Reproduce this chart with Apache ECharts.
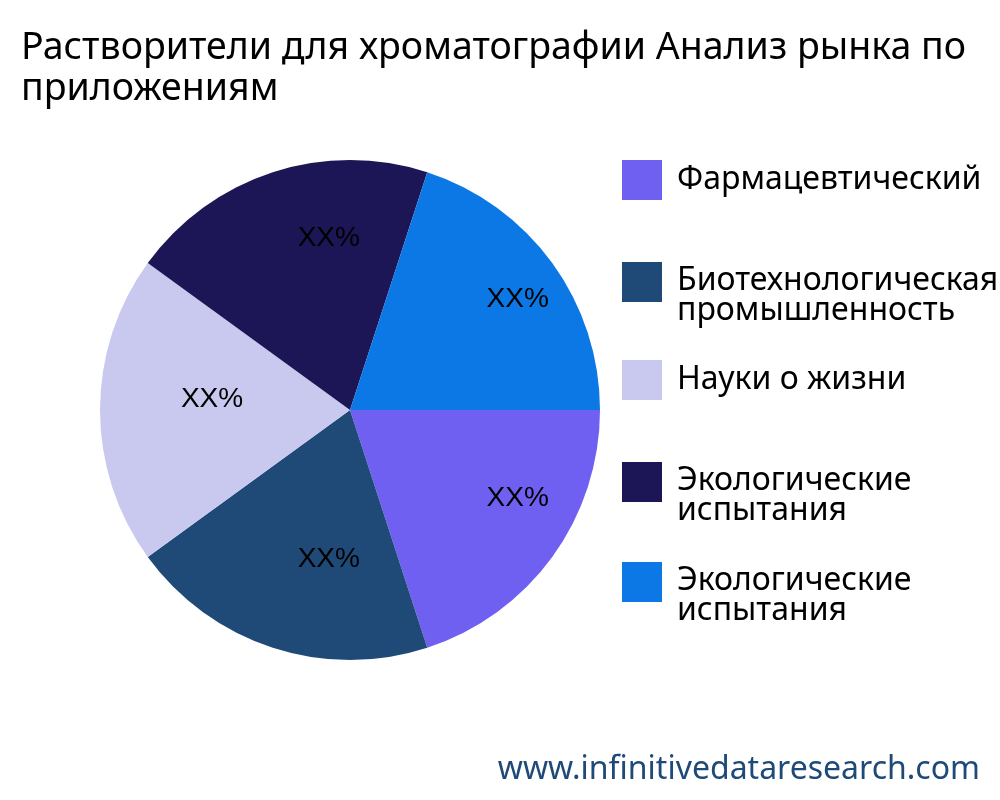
<!DOCTYPE html><html><head><meta charset="utf-8"><script src="https://cdn.jsdelivr.net/npm/echarts@6/dist/echarts.min.js"></script></head><body style="margin:0"><div id="c" style="width:1000px;height:800px"></div><script>
const categories=["Фармацевтический","Биотехнологическая\nпромышленность","Науки о жизни","Экологические\nиспытания","Экологические\nиспытания "];
const values=[20,20,20,20,20];
const labels=["XX%","XX%","XX%","XX%","XX%"];
const colors=["#7060f2","#1f4a78","#c9c9f0","#1c1656","#0b78e6"];
const ch=echarts.init(document.getElementById('c'));
const data=categories.map((n,i)=>({name:n,value:values[i]}));
const legends=categories.map((n,i)=>{
  const two=n.indexOf("\n")>=0;
  return {orient:"vertical",left:617,top:155+100*i-(two?22:0),itemWidth:40,itemHeight:40,icon:"rect",data:[n],
    formatter:two?(s=>'{s| }\n'+s.split("\n").map(l=>'{t|'+l+'}').join("\n")):undefined,
    textStyle:{fontFamily:"Noto Sans",fontSize:32,color:"#000",lineHeight:30,padding:[0,0,0,10],
      rich:{s:{fontSize:1,lineHeight:28},t:{fontFamily:"Noto Sans",fontSize:32,color:"#000",lineHeight:30}}}};
});
ch.setOption({
title:{text:"Растворители для хроматографии Анализ рынка по\nприложениям",left:16,top:23,textStyle:{fontFamily:"Noto Sans",fontWeight:"normal",fontSize:37.5,color:"#000",lineHeight:41}},
color:colors,
legend:legends,
graphic:[{type:"text",right:20,bottom:14,style:{text:"www.infinitivedataresearch.com",fontFamily:"Noto Sans",fontSize:32,fill:"#1f4a78"}}],
series:[
{type:"pie",center:[350,410],radius:[0,250],startAngle:0,clockwise:true,label:{show:false},labelLine:{show:false},data:data,emphasis:{disabled:true}},
{type:"pie",center:[381,399],radius:[82,250],startAngle:0,clockwise:true,silent:true,legendHoverLink:false,
 label:{show:true,position:"inside",formatter:p=>labels[p.dataIndex],fontFamily:"Liberation Sans",fontSize:28,color:"#000"},
 data:data.map(d=>({name:d.name,value:d.value,itemStyle:{color:"rgba(0,0,0,0)"}}))}
]});
</script></body></html>
